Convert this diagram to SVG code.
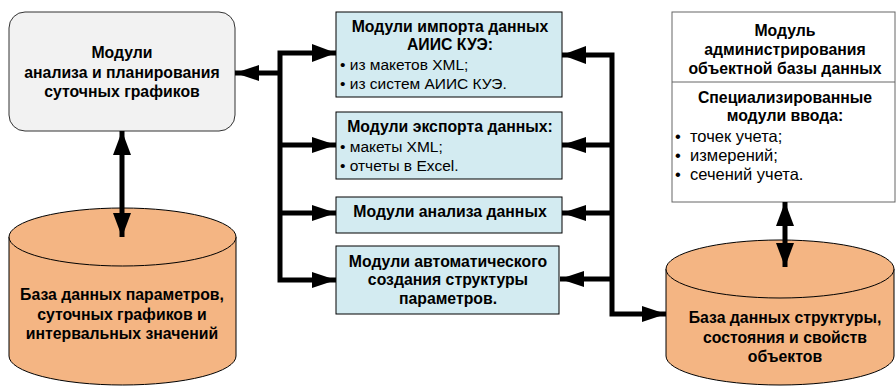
<svg xmlns="http://www.w3.org/2000/svg" width="896" height="386" viewBox="0 0 896 386">
<style>
text{font-family:"Liberation Sans",Arial,sans-serif;font-size:15.5px;fill:#000}
.b{font-weight:bold;font-size:15.8px}
.c{text-anchor:middle}
.s{font-size:16.5px}
.blue{fill:#d3ebf1;stroke:#000;stroke-width:1}
.db{fill:#f4b583;stroke:#000;stroke-width:1}
.conn{fill:none;stroke:#000;stroke-width:5;stroke-linejoin:miter;stroke-linecap:butt}
</style>
<defs>
<marker id="ah" markerUnits="userSpaceOnUse" markerWidth="24" markerHeight="16" refX="24" refY="8" orient="auto">
<path d="M0,0 L24,8 L0,16 z" fill="#000"/>
</marker>
<marker id="ahs" markerUnits="userSpaceOnUse" markerWidth="24" markerHeight="18" refX="24" refY="9" orient="auto-start-reverse">
<path d="M0,0 L24,9 L0,18 z" fill="#000"/>
</marker>
</defs>

<g id="plan">
<rect x="9" y="12" width="226" height="119" rx="16" ry="16" fill="#f2f2f2" stroke="#333" stroke-width="1"/>
<text class="b c" x="122" y="58">Модули</text>
<text class="b c" x="122" y="78">анализа и планирования</text>
<text class="b c" x="122" y="97">суточных графиков</text>
</g>

<g id="db-params">
<path class="db" d="M9,237 L9,356 A113.5,29 0 0 0 236,356 L236,237 Z"/>
<ellipse class="db" cx="122.5" cy="237" rx="113.5" ry="29"/>
<text class="b c" x="122" y="300">База данных параметров,</text>
<text class="b c" x="122" y="320">суточных графиков и</text>
<text class="b c" x="122" y="339">интервальных значений</text>
</g>

<g id="import">
<rect class="blue" x="336" y="12" width="226" height="85"/>
<text class="b c" x="450" y="32">Модули импорта данных</text>
<text class="b c" x="450" y="50">АИИС КУЭ:</text>
<text x="340" y="70">• из макетов XML;</text>
<text x="340" y="89">• из систем АИИС КУЭ.</text>
</g>

<g id="export">
<rect class="blue" x="336" y="112" width="226" height="67"/>
<text class="b c" x="450" y="131.5">Модули экспорта данных:</text>
<text x="340" y="151.5">• макеты XML;</text>
<text x="340" y="171">• отчеты в Excel.</text>
</g>

<g id="analysis">
<rect class="blue" x="336" y="197" width="226" height="36"/>
<text class="b c" x="450" y="216.5">Модули анализа данных</text>
</g>

<g id="auto">
<rect class="blue" x="336" y="246" width="223" height="68"/>
<text class="b c" x="448" y="266.5">Модули автоматического</text>
<text class="b c" x="448" y="284.5">создания структуры</text>
<text class="b c" x="448" y="303.5">параметров.</text>
</g>

<g id="admin">
<rect x="672" y="12" width="223" height="190" fill="#fff" stroke="#666" stroke-width="1"/>
<line x1="672" y1="82" x2="895" y2="82" stroke="#666" stroke-width="1"/>
<text class="b c" x="785" y="36">Модуль</text>
<text class="b c" x="785" y="55">администрирования</text>
<text class="b c" x="785" y="73.5">объектной базы данных</text>
<text class="b c" x="785" y="103">Специализированные</text>
<text class="b c" x="785" y="121">модули ввода:</text>
<text class="s" x="675" y="141.5">•</text><text class="s" x="690" y="141.5">точек учета;</text>
<text class="s" x="675" y="161">•</text><text class="s" x="690" y="161">измерений;</text>
<text class="s" x="675" y="180">•</text><text class="s" x="690" y="180">сечений учета.</text>
</g>

<g id="db-objects">
<path class="db" d="M666,269 L666,356 A114,29 0 0 0 894,356 L894,269 Z"/>
<ellipse class="db" cx="780" cy="269" rx="114" ry="29"/>
<text class="b c" x="785" y="323">База данных структуры,</text>
<text class="b c" x="785" y="343">состояния и свойств</text>
<text class="b c" x="785" y="361.5">объектов</text>
</g>

<g id="connectors">
<path class="conn" d="M280,73 L235,73" marker-end="url(#ah)"/>
<path class="conn" d="M336,53 L280,53 L280,280 L336,280" marker-start="url(#ahs)" marker-end="url(#ah)"/>
<path class="conn" d="M280,145 L336,145" marker-end="url(#ah)"/>
<path class="conn" d="M280,213 L336,213" marker-end="url(#ah)"/>
<path class="conn" d="M562,55 L612,55 L612,314 L666,314" marker-start="url(#ahs)" marker-end="url(#ah)"/>
<path class="conn" d="M612,145 L562,145" marker-end="url(#ah)"/>
<path class="conn" d="M612,213 L562,213" marker-end="url(#ah)"/>
<path class="conn" d="M612,279 L560,279" marker-end="url(#ah)"/>
<path class="conn" d="M122,131 L122,237" marker-start="url(#ahs)" marker-end="url(#ahs)"/>
<path class="conn" d="M785,202 L785,267" marker-start="url(#ahs)" marker-end="url(#ahs)"/>
</g>
</svg>
